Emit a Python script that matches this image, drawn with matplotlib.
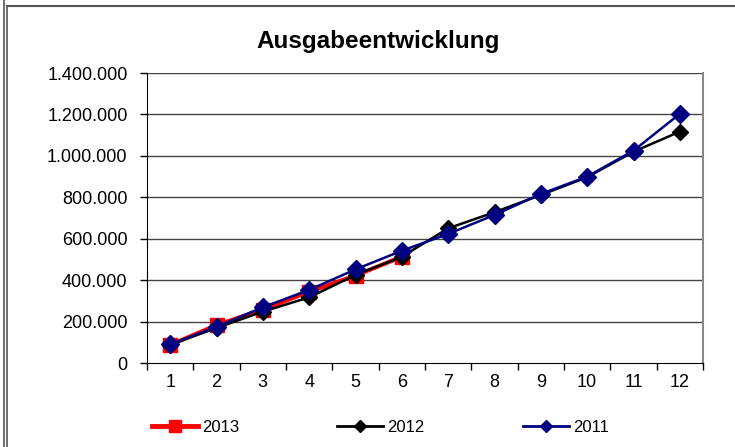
import matplotlib
matplotlib.use("Agg")
import matplotlib.pyplot as plt
from matplotlib.ticker import FuncFormatter, FixedLocator
from matplotlib.lines import Line2D

months = [1, 2, 3, 4, 5, 6, 7, 8, 9, 10, 11, 12]
v2013 = [87000, 183000, 258000, 344000, 422000, 513000]
v2012 = [88000, 169000, 248000, 317000, 425000, 513000, 650000, 728000, 811000, 897000, 1020000, 1117000]
v2011 = [90000, 175000, 269000, 353000, 452000, 542000, 623000, 715000, 816000, 900000, 1025000, 1203000]
title = "Ausgabeentwicklung"

plt.rcParams['font.family'] = ['Liberation Sans', 'DejaVu Sans']

fig = plt.figure(figsize=(7.35, 4.47), dpi=100)
ax = fig.add_axes([147/735, 1-363/447, 556/735, 290/447])

for y in range(200000, 1400001, 200000):
    ax.axhline(y, color='#444444', lw=1.0, zorder=1)

ax.plot(months[:len(v2013)], v2013, color='#ff0000', lw=3, marker='s', ms=10,
        mec='#ff0000', mfc='#ff0000', zorder=3, label='2013')
ax.plot(months, v2012, color='black', lw=1.8, marker='D', ms=8,
        mec='black', mfc='black', zorder=4, label='2012')
ax.plot(months, v2011, color='#000080', lw=1.8, marker='D', ms=9,
        mec='#000080', mfc='#000080', zorder=5, label='2011')

ax.set_xlim(0.5, 12.5)
ax.set_ylim(0, 1400000)
ax.xaxis.set_major_locator(FixedLocator([m + 0.5 for m in [0] + months]))
ax.xaxis.set_minor_locator(FixedLocator(months))
ax.xaxis.set_major_formatter(FuncFormatter(lambda v, p: ''))
ax.xaxis.set_minor_formatter(FuncFormatter(lambda v, p: f"{int(round(v))}"))
ax.tick_params(axis='x', which='major', direction='out', length=5, width=1, color='black')
ax.tick_params(axis='x', which='minor', length=0, pad=8, labelsize=13)
ax.set_yticks(range(0, 1400001, 200000))
ax.yaxis.set_major_formatter(FuncFormatter(lambda v, p: f"{int(v):,}".replace(',', '.')))
ax.tick_params(axis='y', direction='out', length=5, width=1, pad=9, labelsize=13)

ax.spines['left'].set_color('black')
ax.spines['bottom'].set_color('black')
ax.spines['right'].set_color('#888888')
ax.spines['right'].set_linewidth(1.5)
ax.spines['top'].set_visible(False)

fig.text(378/735, 1-48/447, title, ha='center', va='baseline', fontsize=17.5, fontweight='bold')

handles = [
    Line2D([], [], color='#ff0000', lw=3.5, marker='s', ms=8, mec='#ff0000', mfc='#ff0000'),
    Line2D([], [], color='black', lw=2, marker='D', ms=6, mec='black', mfc='black'),
    Line2D([], [], color='#000080', lw=2, marker='D', ms=6, mec='#000080', mfc='#000080'),
]
fig.legend(handles, ['2013', '2012', '2011'], loc='center left',
           bbox_to_anchor=(152/735, 1-427/447), ncol=3, frameon=False,
           fontsize=12, handlelength=2.75, handletextpad=0.25, columnspacing=5.9,
           borderaxespad=0, borderpad=0)

# outer frame lines
fig.add_artist(Line2D([4/735, 4/735], [0, 1], color='#555555', lw=1.2, transform=fig.transFigure))
fig.add_artist(Line2D([7.5/735, 7.5/735], [0, 1-6/447], color='#555555', lw=1.2, transform=fig.transFigure))
fig.add_artist(Line2D([7.5/735, 1], [1-6/447, 1-6/447], color='#555555', lw=1.5, transform=fig.transFigure))

fig.savefig('out.png', dpi=100)
